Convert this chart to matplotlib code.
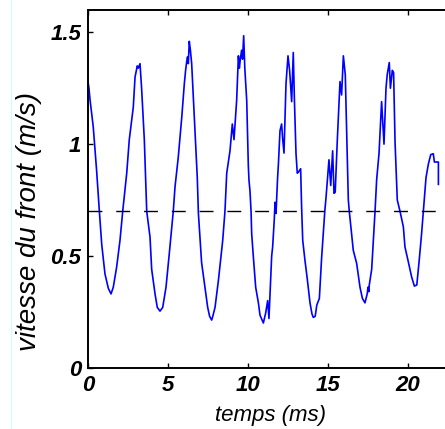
import matplotlib
matplotlib.use("Agg")
import matplotlib.pyplot as plt
from matplotlib.lines import Line2D

# Front velocity trace (time in ms, velocity in m/s)
t_ms = [0.0, 0.06, 0.125, 0.33, 0.54, 0.71, 0.86, 1.06, 1.27, 1.44, 1.58, 1.79, 2.0,
        2.17, 2.42, 2.58, 2.83, 2.94, 3.08, 3.15, 3.25, 3.35, 3.52, 3.67, 3.875, 3.98,
        4.19, 4.33, 4.5, 4.67, 4.875, 5.08, 5.33, 5.44, 5.64, 5.86, 6.02, 6.1, 6.17,
        6.22, 6.27, 6.33, 6.4, 6.48, 6.69, 6.83, 6.9, 7.1, 7.31, 7.48, 7.6, 7.73, 7.8,
        7.94, 8.15, 8.42, 8.56, 8.67, 8.875, 9.02, 9.125, 9.29, 9.4, 9.46, 9.52, 9.6,
        9.66, 9.73, 9.8, 9.92, 10.02, 10.06, 10.125, 10.19, 10.23, 10.33, 10.48, 10.65,
        10.75, 10.96, 11.1, 11.23, 11.31, 11.375, 11.48, 11.54, 11.64, 11.69, 11.75,
        11.85, 11.9, 12.0, 12.1, 12.17, 12.25, 12.375, 12.5, 12.6, 12.73, 12.83, 12.9,
        13.0, 13.08, 13.15, 13.29, 13.35, 13.42, 13.56, 13.7, 13.875, 14.0, 14.08, 14.2,
        14.3, 14.46, 14.6, 14.8, 14.875, 15.06, 15.17, 15.29, 15.375, 15.45, 15.58,
        15.75, 15.85, 15.96, 16.08, 16.27, 16.33, 16.58, 16.79, 17.0, 17.15, 17.31,
        17.45, 17.5, 17.55, 17.58, 17.73, 17.94, 18.04, 18.19, 18.35, 18.5, 18.625,
        18.7, 18.83, 18.9, 19.02, 19.1, 19.19, 19.33, 19.5, 19.71, 19.81, 20.0, 20.23,
        20.4, 20.55, 20.7, 20.85, 20.96, 21.125, 21.27, 21.42, 21.58, 21.65, 21.9, 21.9]
v_front = [1.28, 1.25, 1.2, 1.076, 0.88, 0.70, 0.55, 0.42, 0.355, 0.33, 0.36, 0.45, 0.57,
           0.70, 0.87, 1.02, 1.165, 1.30, 1.35, 1.34, 1.36, 1.25, 1.02, 0.70, 0.585, 0.44,
           0.33, 0.27, 0.253, 0.27, 0.36, 0.51, 0.70, 0.81, 0.94, 1.12, 1.27, 1.33, 1.37,
           1.39, 1.36, 1.46, 1.42, 1.36, 1.05, 0.85, 0.69, 0.47, 0.36, 0.27, 0.23, 0.213, 0.23,
           0.27, 0.39, 0.57, 0.70, 0.87, 0.97, 1.09, 1.02, 1.195, 1.395, 1.34, 1.38, 1.42,
           1.38, 1.485, 1.34, 1.195, 0.905, 0.84, 0.79, 0.70, 0.6, 0.5, 0.36, 0.29,
           0.235, 0.2, 0.243, 0.30, 0.22, 0.33, 0.5, 0.54, 0.66, 0.74, 0.69,
           0.85, 0.91, 1.06, 1.09, 1.02, 0.96, 1.27, 1.395, 1.33, 1.19, 1.41, 1.2,
           0.958, 0.87, 0.875, 0.89, 0.72, 0.57, 0.48, 0.40, 0.29, 0.24, 0.225, 0.23,
           0.28, 0.31, 0.49, 0.70, 0.76, 0.93, 0.815, 0.97, 0.78, 0.785, 1.015,
           1.28, 1.22, 1.395, 1.31, 0.75, 0.70, 0.525, 0.467, 0.36, 0.31, 0.29,
           0.33, 0.36, 0.34, 0.37, 0.44, 0.70, 0.84, 0.96, 1.19, 1.0, 1.25,
           1.31, 1.365, 1.25, 1.33, 1.32, 1.01, 0.75, 0.70, 0.63, 0.54, 0.48, 0.405,
           0.365, 0.37, 0.48, 0.6, 0.70, 0.85, 0.91, 0.953, 0.957, 0.92, 0.92, 0.82]

mean_level = 0.7
x_ticks = [0, 5, 10, 15, 20]
y_ticks = [0, 0.5, 1, 1.5]
y_tick_labels = ["0", "0.5", "1", "1.5"]

plt.rcParams['font.family'] = ['Liberation Sans', 'DejaVu Sans']

fig = plt.figure(figsize=(4.45, 4.29), dpi=100)
# axes run past the right edge of the picture (right spine is cropped off)
ax = fig.add_axes([88 / 445, 61.3 / 429, 400 / 445, 357.7 / 429])

ax.plot(t_ms, v_front, color='#0000ff', linewidth=1.2)
ax.plot([t_ms[0], t_ms[-1]], [mean_level, mean_level], color='black',
        linewidth=1.0, linestyle=(0, (10, 10)))

ax.set_xlim(0, 25)
ax.set_ylim(0, 1.6)
ax.set_xticks(x_ticks)
ax.set_xticklabels([str(x) for x in x_ticks])
ax.set_yticks(y_ticks)
ax.set_yticklabels(y_tick_labels)

# MATLAB-like look: inward ticks, ticks on top too, bold italic numbers
ax.tick_params(direction='in', length=3.6, width=1.0, top=True, right=False)
ax.tick_params(axis='x', pad=5)
ax.tick_params(axis='y', pad=5)
for lab in ax.get_xticklabels() + ax.get_yticklabels():
    lab.set_fontsize(16)
    lab.set_fontweight('bold')
    lab.set_fontstyle('italic')

for side in ['left', 'bottom', 'top', 'right']:
    ax.spines[side].set_linewidth(1.4)

ax.set_xlabel("temps (ms)", fontsize=16, fontstyle='italic', va='center')
ax.xaxis.set_label_coords(0.457, -0.135)
ax.set_ylabel("vitesse du front (m/s)", fontsize=20, fontstyle='italic', va='center')
ax.yaxis.set_label_coords(-0.1475, 0.41)

# faint cyan border line at the left of the screenshot
fig.add_artist(Line2D([11 / 445, 11 / 445], [0, 1], color='#ccffff', linewidth=0.8,
                      transform=fig.transFigure))

fig.savefig('out.png', dpi=100)
